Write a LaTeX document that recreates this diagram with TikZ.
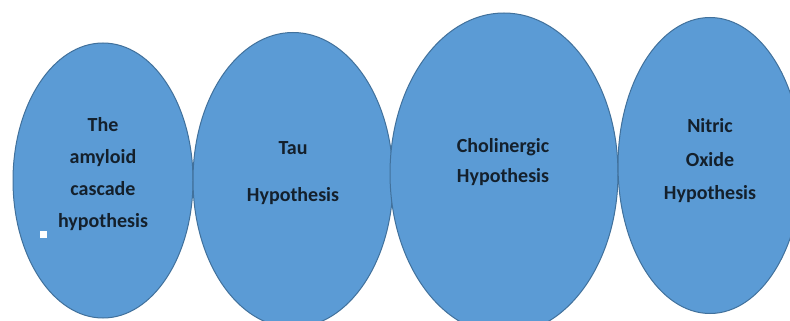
\documentclass[tikz,border=0pt]{standalone}
\usepackage{fontspec}
\setmainfont{Carlito}
\usetikzlibrary{shapes.geometric}
\definecolor{ellfill}{HTML}{5B9BD5}
\definecolor{elldraw}{HTML}{41719C}
\definecolor{txt}{HTML}{14202C}
\tikzset{
  hyp/.style={ellipse, draw=elldraw, fill=ellfill, line width=1pt, inner sep=0pt},
  lbl/.style={align=center, text=txt, inner sep=0pt, font=\bfseries\fontsize{20}{32}\selectfont},
}
\begin{document}
\begin{tikzpicture}[x=1pt,y=-1pt]
\useasboundingbox (0,0) rectangle (790,321);
\clip (0,0) rectangle (790,321);
\fill[white] (0,0) rectangle (790,321);
\node[hyp, minimum width=180pt, minimum height=275pt] (e1) at (103,180.5) {};
\node[hyp, minimum width=200pt, minimum height=295pt] (e2) at (293,180) {};
\node[hyp, minimum width=228pt, minimum height=321pt] (e3) at (504,173.5) {};
\node[hyp, minimum width=184pt, minimum height=296pt] (e4) at (710,165.5) {};
\node[lbl] (t1) at (103,174.5) {The\\amyloid\\cascade\\hypothesis};
\node[lbl, font=\bfseries\fontsize{20}{47}\selectfont] (t2) at (293,173.5) {Tau\\Hypothesis};
\node[lbl, font=\bfseries\fontsize{20}{30}\selectfont] (t3) at (503,162) {Cholinergic\\Hypothesis};
\node[lbl, font=\bfseries\fontsize{20}{33.5}\selectfont] (t4) at (710,161) {Nitric\\Oxide\\Hypothesis};
\node[fill=white, minimum size=7pt, inner sep=0pt] (sq) at (43,234) {};
\end{tikzpicture}
\end{document}
